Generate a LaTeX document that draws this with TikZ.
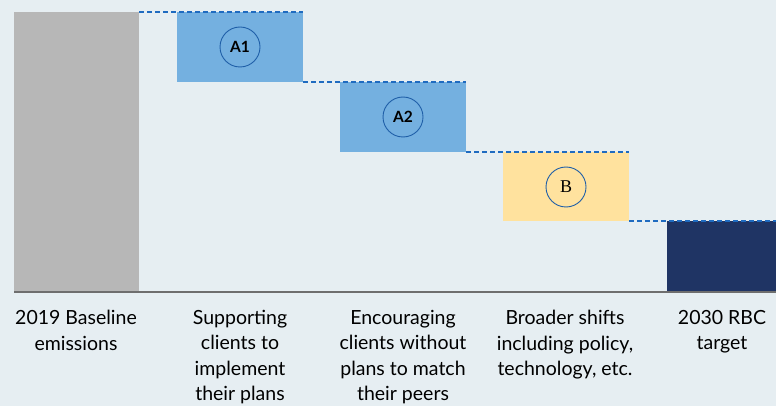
\documentclass[tikz,border=0pt]{standalone}
\usepackage{fontspec}
\setmainfont{Lato}
\newfontfamily\serifB{Liberation Serif}
\definecolor{bgc}{HTML}{E6EEF2}
\definecolor{grayc}{HTML}{B7B7B7}
\definecolor{bluec}{HTML}{74B0E0}
\definecolor{yelc}{HTML}{FFE29E}
\definecolor{navyc}{HTML}{1F3464}
\definecolor{dashc}{HTML}{1F6BC0}
\definecolor{axisc}{HTML}{6E6E6E}
\definecolor{circc}{HTML}{1F5FA8}
\tikzset{
  guide/.style={draw=dashc, line width=1.2pt, dash pattern=on 5pt off 3pt},
  tag/.style={circle, draw=circc, line width=0.9pt, minimum size=40pt, inner sep=0pt, font=\fontsize{15.5}{17}\selectfont\bfseries},
  lbl/.style={align=center, anchor=north, font=\fontsize{19.5}{25.5}\selectfont, text=black, inner sep=0pt}
}
\begin{document}
\begin{tikzpicture}[x=1pt, y=-1pt]
\useasboundingbox (0,0) rectangle (776,406);
\fill[bgc] (0,0) rectangle (776,406);
% bars
\fill[grayc] (14,12) rectangle (139,292);
\fill[bluec] (177,12) rectangle (303,82);
\fill[bluec] (340,82) rectangle (466,152);
\fill[yelc] (503,152) rectangle (629,221);
\fill[navyc] (667,221) rectangle (776,292);
% named corners
\coordinate (g) at (139,12);
\coordinate (a1tr) at (303,12);
\coordinate (a1br) at (303,82);
\coordinate (a2tr) at (466,82);
\coordinate (a2br) at (466,152);
\coordinate (btr) at (629,152);
\coordinate (bbr) at (629,221);
\coordinate (end) at (776,221);
\draw[guide] (g) -- (a1tr);
\draw[guide] (a1br) -- (a2tr);
\draw[guide] (a2br) -- (btr);
\draw[guide] (bbr) -- (end);
% axis
\coordinate (ax0) at (14,292);
\coordinate (ax1) at (776,292);
\draw[axisc, line width=2pt] (ax0) -- (ax1);
% tags
\node[tag] (tA1) at (240,47) {A1};
\node[tag] (tA2) at (403,117) {A2};
\node[tag, font=\fontsize{18}{20}\selectfont\serifB] (tB) at (566,187) {B};
% labels
\node[lbl] (l1) at (76,310) {2019 Baseline\\emissions};
\node[lbl] (l2) at (240,310) {Supporting\\clients to\\implement\\their plans};
\node[lbl] (l3) at (403,310) {Encouraging\\clients without\\plans to match\\their peers};
\node[lbl] (l4) at (565,310) {Broader shifts\\including policy,\\technology, etc.};
\node[lbl] (l5) at (722,310) {2030 RBC\\target};
\end{tikzpicture}
\end{document}
